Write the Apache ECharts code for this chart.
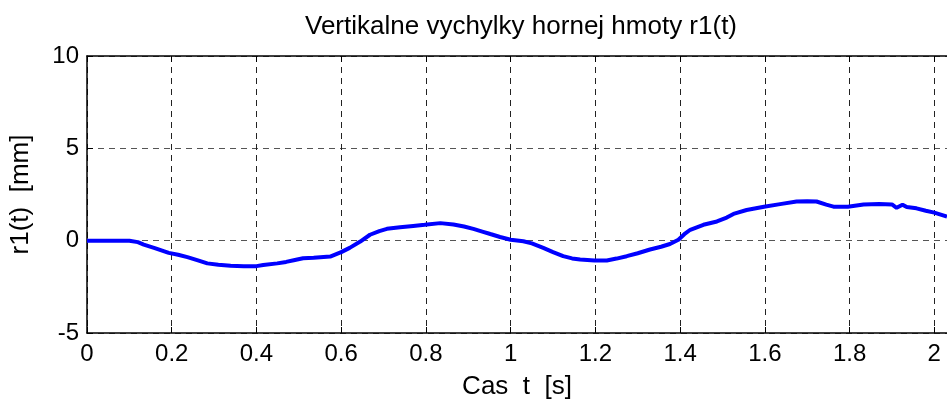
<!DOCTYPE html>
<html>
<head>
<meta charset="utf-8">
<script src="https://cdn.jsdelivr.net/npm/echarts@6/dist/echarts.min.js"></script>
<style>html,body{margin:0;padding:0;background:#fff}#c{width:947px;height:405px}</style>
</head>
<body>
<div id="c"></div>
<script>
const titleText = "Vertikalne vychylky hornej hmoty r1(t)";
const xName = "Cas  t  [s]";
const yName = "r1(t)  [mm]";
const timeValues = [0,0.05,0.10,0.12,0.134,0.16,0.193,0.215,0.237,0.26,0.284,0.31,0.339,0.37,0.40,0.416,0.449,0.47,0.488,0.51,0.535,0.574,0.60,0.62,0.645,0.668,0.69,0.708,0.739,0.77,0.797,0.834,0.865,0.89,0.912,0.935,0.952,0.975,1.0,1.03,1.05,1.077,1.10,1.124,1.145,1.164,1.198,1.227,1.25,1.274,1.30,1.329,1.355,1.376,1.396,1.41,1.424,1.455,1.487,1.51,1.526,1.557,1.598,1.636,1.675,1.70,1.722,1.745,1.762,1.796,1.833,1.87,1.90,1.911,1.925,1.935,1.958,1.98,2.0,2.03];
const r1Values = [0,0,0,-0.08,-0.21,-0.40,-0.66,-0.76,-0.89,-1.05,-1.23,-1.30,-1.36,-1.38,-1.38,-1.32,-1.23,-1.15,-1.06,-0.95,-0.92,-0.86,-0.62,-0.39,-0.05,0.32,0.52,0.64,0.73,0.80,0.86,0.95,0.88,0.77,0.64,0.48,0.36,0.20,0.05,-0.03,-0.15,-0.39,-0.62,-0.84,-0.96,-1.02,-1.07,-1.07,-0.97,-0.84,-0.68,-0.48,-0.33,-0.18,0.05,0.35,0.59,0.86,1.04,1.25,1.45,1.66,1.84,1.98,2.12,2.14,2.12,1.95,1.84,1.84,1.96,1.98,1.96,1.78,1.95,1.82,1.75,1.62,1.52,1.31];
const xMin = 0, xMax = 2.03, xStep = 0.2;
const yMin = -5, yMax = 10, yStep = 5;

const font = "Arial, 'Liberation Sans', sans-serif";
const chart = echarts.init(document.getElementById('c'), null, {renderer: 'canvas'});
const data = timeValues.map((t, i) => [t, r1Values[i]]);
chart.setOption({
  animation: false,
  backgroundColor: '#fff',
  title: {
    text: titleText, left: 516, top: 9, textAlign: 'center',
    textStyle: {fontFamily: font, fontSize: 26, fontWeight: 'normal', color: '#000'}
  },
  grid: {left: 87, top: 56, right: 0, bottom: 69, containLabel: false},
  xAxis: [{
    type: 'value', min: xMin, max: xMax, interval: xStep, position: 'bottom',
    name: xName, nameLocation: 'middle', nameGap: 41,
    nameTextStyle: {fontFamily: font, fontSize: 26, color: '#000'},
    axisLine: {show: true, onZero: false, lineStyle: {color: '#000', width: 1.5}},
    axisTick: {show: true, inside: true, length: 6, lineStyle: {color: '#000'}},
    axisLabel: {fontFamily: font, fontSize: 24, color: '#000', margin: 9, showMaxLabel: false,
      formatter: v => String(parseFloat(v.toFixed(2)))},
    splitLine: {show: true, lineStyle: {color: '#222', type: [6, 5], width: 1}}
  }, {
    type: 'value', min: xMin, max: xMax, interval: xStep, position: 'top',
    axisLine: {show: true, onZero: false, lineStyle: {color: '#000', width: 1.5}},
    axisTick: {show: true, inside: true, length: 6, lineStyle: {color: '#000'}},
    axisLabel: {show: false}, splitLine: {show: false}
  }],
  yAxis: {
    type: 'value', min: yMin, max: yMax, interval: yStep,
    name: yName, nameLocation: 'middle', nameGap: 53, nameRotate: 90,
    nameTextStyle: {fontFamily: font, fontSize: 26, color: '#000'},
    axisLine: {show: true, onZero: false, lineStyle: {color: '#000', width: 1.5}},
    axisTick: {show: true, inside: true, length: 6, lineStyle: {color: '#000'}},
    axisLabel: {fontFamily: font, fontSize: 24, color: '#000', margin: 8},
    splitLine: {show: true, lineStyle: {color: '#555', type: [6, 5], width: 1}}
  },
  series: [{
    type: 'line', data: data, xAxisIndex: 0, showSymbol: false, smooth: false,
    lineStyle: {color: '#0000ff', width: 4}, clip: true
  }]
});
</script>
</body>
</html>
